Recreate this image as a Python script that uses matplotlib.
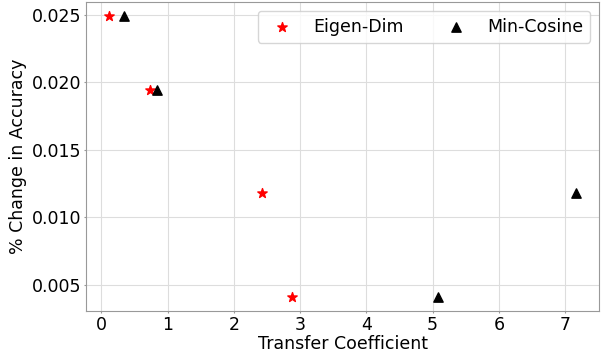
import matplotlib
matplotlib.use("Agg")
import matplotlib.pyplot as plt

# transfer coefficient vs accuracy change
eigen_x = [0.12, 0.74, 2.42, 2.88]
eigen_y = [0.0249, 0.0194, 0.0118, 0.0041]
cos_x = [0.34, 0.84, 7.16, 5.08]
cos_y = [0.0249, 0.0194, 0.0118, 0.0041]

plt.rcParams["font.size"] = 12.5

fig = plt.figure(figsize=(6.02, 3.54), dpi=100)
ax = fig.add_axes([86 / 602, 1 - 311 / 354, (599 - 86) / 602, (311 - 2) / 354])
ax.scatter(eigen_x, eigen_y, marker="*", color="red", s=50, label="Eigen-Dim", zorder=3)
ax.scatter(cos_x, cos_y, marker="^", color="black", s=45, label="Min-Cosine", zorder=3)

ax.set_xlabel("Transfer Coefficient", labelpad=1)
ax.set_ylabel("% Change in Accuracy", labelpad=3)
ax.set_xticks(range(0, 8))
ax.set_yticks([0.005, 0.010, 0.015, 0.020, 0.025])
ax.grid(True, color="#dddddd")
ax.set_axisbelow(True)
for s in ax.spines.values():
    s.set_color("#999999")
ax.tick_params(length=1.5, pad=2, color="#999999")
ax.legend(loc="upper right", ncol=2, fontsize=12.5, columnspacing=2.0)

fig.savefig("out.png", dpi=100)
